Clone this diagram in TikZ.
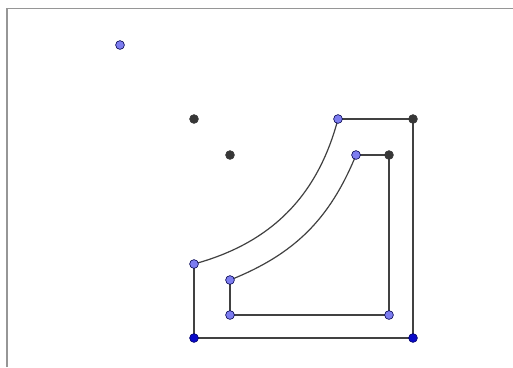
\documentclass[tikz,border=0pt]{standalone}
\definecolor{ptblue}{RGB}{125,125,240}
\definecolor{ptdark}{RGB}{55,55,55}
\definecolor{ptnavy}{RGB}{10,10,200}
\definecolor{segcol}{RGB}{65,65,65}
\definecolor{framecol}{RGB}{150,150,150}
\tikzset{
  pt/.style={circle,inner sep=0pt,minimum size=8.8pt,draw=black!70!blue,line width=0.6pt},
  freept/.style={pt,fill=ptblue},
  darkpt/.style={pt,fill=ptdark,draw=ptdark},
  navypt/.style={pt,fill=ptnavy,draw=black!60!blue},
  seg/.style={draw=segcol,line width=1.2pt},
  frameline/.style={draw=framecol,line width=1.6pt}
}
\begin{document}
\begin{tikzpicture}[x=1pt,y=-1pt]
\useasboundingbox (0,0) rectangle (513,367);
\fill[white] (0,0) rectangle (513,367);
\coordinate (f1) at (7,367);
\coordinate (f2) at (7,8.5);
\coordinate (f3) at (513,8.5);
\draw[frameline] (f1) -- (f2) -- (f3);
% points
\coordinate (c) at (120,45);
\coordinate (da) at (194,119);
\coordinate (db) at (230,155);
\coordinate (o1) at (194,264);
\coordinate (o2) at (194,338);
\coordinate (o3) at (413,338);
\coordinate (o4) at (413,119);
\coordinate (o5) at (338,119);
\coordinate (i1) at (230,280);
\coordinate (i2) at (230,315);
\coordinate (i3) at (389,315);
\coordinate (i4) at (389,155);
\coordinate (i5) at (356,155);
% shapes
\draw[seg] (o1) to[bend right=30] (o5);
\draw[seg] (o5) -- (o4) -- (o3) -- (o2) -- (o1);
\draw[seg] (i1) to[bend right=23] (i5);
\draw[seg] (i5) -- (i4) -- (i3) -- (i2) -- (i1);
% point markers
\node[freept] (nc) at (c) {};
\node[darkpt] (nda) at (da) {};
\node[darkpt] (ndb) at (db) {};
\node[freept] (no1) at (o1) {};
\node[navypt] (no2) at (o2) {};
\node[navypt] (no3) at (o3) {};
\node[darkpt] (no4) at (o4) {};
\node[freept] (no5) at (o5) {};
\node[freept] (ni1) at (i1) {};
\node[freept] (ni2) at (i2) {};
\node[freept] (ni3) at (i3) {};
\node[darkpt] (ni4) at (i4) {};
\node[freept] (ni5) at (i5) {};
\end{tikzpicture}
\end{document}
